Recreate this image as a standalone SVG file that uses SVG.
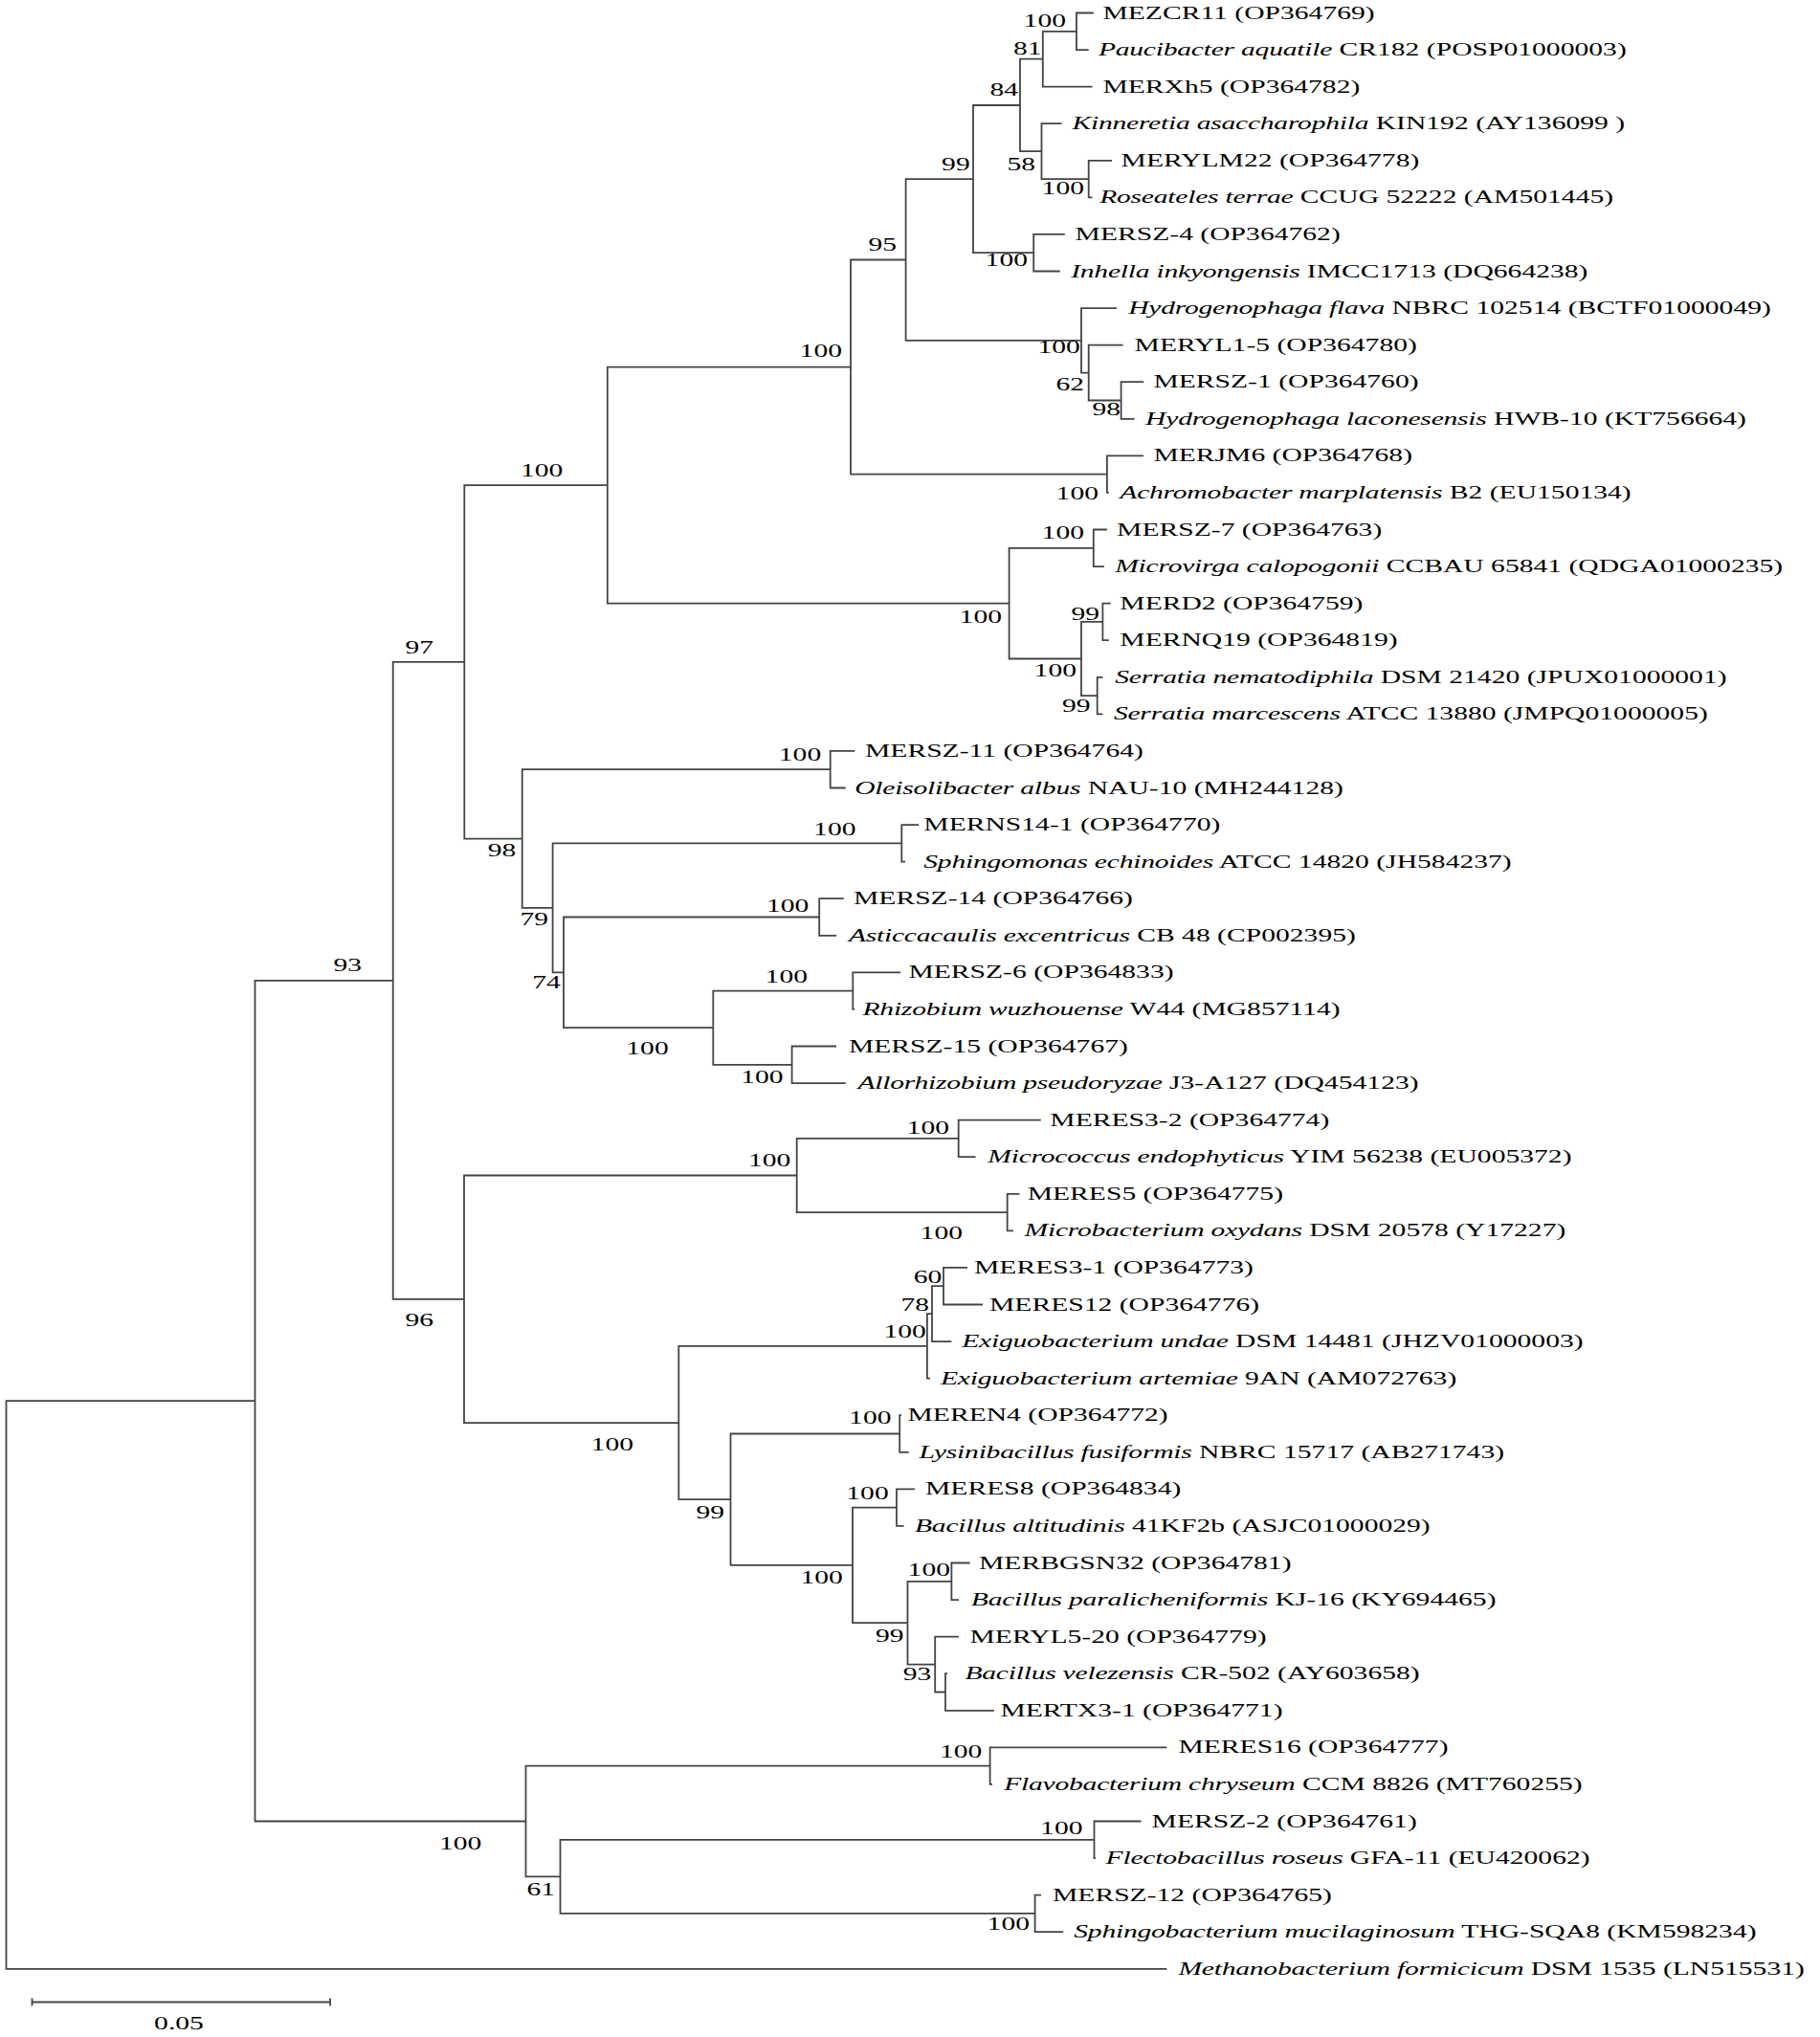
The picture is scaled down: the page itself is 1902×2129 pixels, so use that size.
<svg xmlns="http://www.w3.org/2000/svg" width="1902" height="2129" viewBox="0 0 1902 2129">
<style>
.t{font-family:"Liberation Serif","Times New Roman",serif;font-size:18px;fill:#000}
.i{font-style:italic;letter-spacing:-0.15px}
.b{font-family:"Liberation Serif","Times New Roman",serif;font-size:18px;fill:#000;text-anchor:end}
.br{fill:none;stroke:#444;stroke-width:1.8}
</style>
<rect width="1902" height="2129" fill="#fff"/>
<g id="branches" class="br">
<path d="M1142.8 13.5 H1125 V52.1 H1137.7"/>
<path d="M1125 32.8 H1089.8 V90.6 H1141.5"/>
<path d="M1162 167.8 H1137.7 V206.4 H1141.5"/>
<path d="M1109.6 129.2 H1088.5 V187.1 H1137.7"/>
<path d="M1089.8 61.7 H1066 V158.2 H1088.5"/>
<path d="M1112.8 244.9 H1080.2 V283.5 H1107.7"/>
<path d="M1066 110 H1017 V264.2 H1080.2"/>
<path d="M1195.2 399.2 H1171.6 V437.8 H1185.6"/>
<path d="M1173.5 360.6 H1137.7 V418.5 H1171.6"/>
<path d="M1167 322.1 H1130 V389.6 H1137.7"/>
<path d="M1017 187.1 H946.6 V355.8 H1130"/>
<path d="M1195 476.4 H1156.9 V514.9 H1158.8"/>
<path d="M946.6 271.5 H889 V495.7 H1156.9"/>
<path d="M1156.9 553.5 H1142.8 V592.1 H1154"/>
<path d="M1160.7 630.6 H1152.4 V669.2 H1158.8"/>
<path d="M1152.4 707.8 H1146.7 V746.4 H1152.4"/>
<path d="M1152.4 649.9 H1130 V727.1 H1146.7"/>
<path d="M1142.8 572.8 H1054.6 V688.5 H1130"/>
<path d="M889 383.6 H634.8 V630.6 H1054.6"/>
<path d="M893.2 784.9 H867.7 V823.5 H883.7"/>
<path d="M960.2 862.1 H942.3 V900.6 H946"/>
<path d="M881.8 939.2 H856.2 V977.8 H874.1"/>
<path d="M941 1016.4 H891.3 V1054.9 H893"/>
<path d="M874 1093.5 H827.6 V1132.1 H883.7"/>
<path d="M891.3 1035.7 H745.3 V1112.8 H827.6"/>
<path d="M856.2 958.5 H589 V1074.2 H745.3"/>
<path d="M942.3 881.4 H577.6 V1016.4 H589"/>
<path d="M867.7 804.2 H545.7 V948.9 H577.6"/>
<path d="M634.8 507.1 H485.3 V876.6 H545.7"/>
<path d="M1087.8 1170.6 H1001.7 V1209.2 H1019.5"/>
<path d="M1065.4 1247.8 H1052.7 V1286.4 H1059"/>
<path d="M1001.7 1189.9 H832.7 V1267.1 H1052.7"/>
<path d="M1011 1324.9 H986 V1363.5 H1027"/>
<path d="M986 1344.2 H974 V1402.1 H994.4"/>
<path d="M974 1373.2 H968.9 V1440.6 H972"/>
<path d="M942 1479.2 H940.2 V1517.8 H949.7"/>
<path d="M956 1556.4 H937 V1594.9 H944.6"/>
<path d="M1013.5 1633.5 H994.4 V1672.1 H1002"/>
<path d="M990 1749.2 H988 V1787.8 H1039"/>
<path d="M1002 1710.6 H977.2 V1768.5 H988"/>
<path d="M994.4 1652.8 H948.5 V1739.6 H977.2"/>
<path d="M937 1575.6 H891 V1696.2 H948.5"/>
<path d="M940.2 1498.5 H763.5 V1635.9 H891"/>
<path d="M968.9 1406.9 H709.3 V1567.2 H763.5"/>
<path d="M832.7 1228.5 H485 V1487.1 H709.3"/>
<path d="M485.3 691.8 H410.7 V1357.8 H485"/>
<path d="M1219.4 1826.4 H1034.6 V1864.9 H1037"/>
<path d="M1192.6 1903.5 H1143.5 V1942.1 H1145"/>
<path d="M1088 1980.6 H1081.6 V2019.2 H1111.2"/>
<path d="M1143.5 1922.8 H585.5 V1999.9 H1081.6"/>
<path d="M1034.6 1845.7 H549.5 V1961.4 H585.5"/>
<path d="M410.7 1024.8 H266.5 V1903.5 H549.5"/>
<path d="M266.5 1464.2 H6.5 V2057.8 H1219.4"/>
</g>
<g id="scale-bar">
<path class="br" d="M33.5 2092.5 H345 M33.5 2088.5 V2096.5 M345 2088.5 V2096.5"/>
<text class="t" text-anchor="middle" transform="translate(187 2121) scale(1.645 1)">0.05</text>
</g>
<g id="support-values">
<g id="n1"><text class="b" transform="translate(1114 28.3) scale(1.645 1)">100</text></g>
<g id="n2"><text class="b" transform="translate(1088.5 57.3) scale(1.645 1)">81</text></g>
<g id="n3"><text class="b" transform="translate(1133 202.7) scale(1.645 1)">100</text></g>
<g id="n4"><text class="b" transform="translate(1082 177.7) scale(1.645 1)">58</text></g>
<g id="n5"><text class="b" transform="translate(1064 100) scale(1.645 1)">84</text></g>
<g id="n6"><text class="b" transform="translate(1074 277.7) scale(1.645 1)">100</text></g>
<g id="n7"><text class="b" transform="translate(1013.7 177.7) scale(1.645 1)">99</text></g>
<g id="n8"><text class="b" transform="translate(1171 434) scale(1.645 1)">98</text></g>
<g id="n9"><text class="b" transform="translate(1133 408.3) scale(1.645 1)">62</text></g>
<g id="n10"><text class="b" transform="translate(1128.8 369) scale(1.645 1)">100</text></g>
<g id="n11"><text class="b" transform="translate(937 261.7) scale(1.645 1)">95</text></g>
<g id="n12"><text class="b" transform="translate(1148 522.3) scale(1.645 1)">100</text></g>
<g id="n13"><text class="b" transform="translate(880 373) scale(1.645 1)">100</text></g>
<g id="n14"><text class="b" transform="translate(1133 562.7) scale(1.645 1)">100</text></g>
<g id="n15"><text class="b" transform="translate(1149 648.3) scale(1.645 1)">99</text></g>
<g id="n16"><text class="b" transform="translate(1139.6 744) scale(1.645 1)">99</text></g>
<g id="n17"><text class="b" transform="translate(1125 706.7) scale(1.645 1)">100</text></g>
<g id="n18"><text class="b" transform="translate(1047 650.7) scale(1.645 1)">100</text></g>
<g id="n19"><text class="b" transform="translate(588.4 498.2) scale(1.645 1)">100</text></g>
<g id="n20"><text class="b" transform="translate(858.2 795) scale(1.645 1)">100</text></g>
<g id="n21"><text class="b" transform="translate(894.5 872.7) scale(1.645 1)">100</text></g>
<g id="n22"><text class="b" transform="translate(845.4 952.7) scale(1.645 1)">100</text></g>
<g id="n23"><text class="b" transform="translate(844 1026.7) scale(1.645 1)">100</text></g>
<g id="n24"><text class="b" transform="translate(818.6 1131.7) scale(1.645 1)">100</text></g>
<g id="n25"><text class="b" transform="translate(698.7 1101.7) scale(1.645 1)">100</text></g>
<g id="n26"><text class="b" transform="translate(585.8 1033.3) scale(1.645 1)">74</text></g>
<g id="n27"><text class="b" transform="translate(573 966.7) scale(1.645 1)">79</text></g>
<g id="n28"><text class="b" transform="translate(539.3 895) scale(1.645 1)">98</text></g>
<g id="n29"><text class="b" transform="translate(453 682.7) scale(1.645 1)">97</text></g>
<g id="n30"><text class="b" transform="translate(992 1185) scale(1.645 1)">100</text></g>
<g id="n31"><text class="b" transform="translate(1006 1295) scale(1.645 1)">100</text></g>
<g id="n32"><text class="b" transform="translate(826.3 1219.3) scale(1.645 1)">100</text></g>
<g id="n33"><text class="b" transform="translate(984.4 1341) scale(1.645 1)">60</text></g>
<g id="n34"><text class="b" transform="translate(971 1370) scale(1.645 1)">78</text></g>
<g id="n35"><text class="b" transform="translate(967.9 1398.3) scale(1.645 1)">100</text></g>
<g id="n36"><text class="b" transform="translate(931.5 1488.3) scale(1.645 1)">100</text></g>
<g id="n37"><text class="b" transform="translate(928.7 1566.7) scale(1.645 1)">100</text></g>
<g id="n38"><text class="b" transform="translate(993 1646.7) scale(1.645 1)">100</text></g>
<g id="n39"><text class="b" transform="translate(973.3 1756) scale(1.645 1)">93</text></g>
<g id="n40"><text class="b" transform="translate(944.6 1716) scale(1.645 1)">99</text></g>
<g id="n41"><text class="b" transform="translate(880.9 1655) scale(1.645 1)">100</text></g>
<g id="n42"><text class="b" transform="translate(757.1 1586.7) scale(1.645 1)">99</text></g>
<g id="n43"><text class="b" transform="translate(662 1515.7) scale(1.645 1)">100</text></g>
<g id="n44"><text class="b" transform="translate(453 1385.6) scale(1.645 1)">96</text></g>
<g id="n45"><text class="b" transform="translate(378 1015.2) scale(1.645 1)">93</text></g>
<g id="n46"><text class="b" transform="translate(1026.3 1836.7) scale(1.645 1)">100</text></g>
<g id="n47"><text class="b" transform="translate(1131.5 1916.7) scale(1.645 1)">100</text></g>
<g id="n48"><text class="b" transform="translate(1076 2017.3) scale(1.645 1)">100</text></g>
<g id="n49"><text class="b" transform="translate(580 1981) scale(1.645 1)">61</text></g>
<g id="n50"><text class="b" transform="translate(503.3 1932.5) scale(1.645 1)">100</text></g>
</g>
<g id="leaves">
<g id="leaf1"><text class="t" transform="translate(1152.4 19.5) scale(1.645 1)">MEZCR11 (OP364769)</text></g>
<g id="leaf2"><text class="t" transform="translate(1147.9 58.1) scale(1.645 1)"><tspan class="i">Paucibacter aquatile</tspan> CR182 (POSP01000003)</text></g>
<g id="leaf3"><text class="t" transform="translate(1152.4 96.6) scale(1.645 1)">MERXh5 (OP364782)</text></g>
<g id="leaf4"><text class="t" transform="translate(1120.4 135.2) scale(1.645 1)"><tspan class="i">Kinneretia asaccharophila</tspan> KIN192 (AY136099 )</text></g>
<g id="leaf5"><text class="t" transform="translate(1171.6 173.8) scale(1.645 1)">MERYLM22 (OP364778)</text></g>
<g id="leaf6"><text class="t" transform="translate(1149.2 212.4) scale(1.645 1)"><tspan class="i">Roseateles terrae</tspan> CCUG 52222 (AM501445)</text></g>
<g id="leaf7"><text class="t" transform="translate(1123.6 250.9) scale(1.645 1)">MERSZ-4 (OP364762)</text></g>
<g id="leaf8"><text class="t" transform="translate(1119.2 289.5) scale(1.645 1)"><tspan class="i">Inhella inkyongensis</tspan> IMCC1713 (DQ664238)</text></g>
<g id="leaf9"><text class="t" transform="translate(1179.2 328.1) scale(1.645 1)"><tspan class="i">Hydrogenophaga flava</tspan> NBRC 102514 (BCTF01000049)</text></g>
<g id="leaf10"><text class="t" transform="translate(1185.6 366.6) scale(1.645 1)">MERYL1-5 (OP364780)</text></g>
<g id="leaf11"><text class="t" transform="translate(1205.4 405.2) scale(1.645 1)">MERSZ-1 (OP364760)</text></g>
<g id="leaf12"><text class="t" transform="translate(1197.1 443.8) scale(1.645 1)"><tspan class="i">Hydrogenophaga laconesensis</tspan> HWB-10 (KT756664)</text></g>
<g id="leaf13"><text class="t" transform="translate(1205.4 482.4) scale(1.645 1)">MERJM6 (OP364768)</text></g>
<g id="leaf14"><text class="t" transform="translate(1170.3 520.9) scale(1.645 1)"><tspan class="i">Achromobacter marplatensis</tspan> B2 (EU150134)</text></g>
<g id="leaf15"><text class="t" transform="translate(1167.1 559.5) scale(1.645 1)">MERSZ-7 (OP364763)</text></g>
<g id="leaf16"><text class="t" transform="translate(1165.2 598.1) scale(1.645 1)"><tspan class="i">Microvirga calopogonii</tspan> CCBAU 65841 (QDGA01000235)</text></g>
<g id="leaf17"><text class="t" transform="translate(1170.3 636.6) scale(1.645 1)">MERD2 (OP364759)</text></g>
<g id="leaf18"><text class="t" transform="translate(1170.3 675.2) scale(1.645 1)">MERNQ19 (OP364819)</text></g>
<g id="leaf19"><text class="t" transform="translate(1165.2 713.8) scale(1.645 1)"><tspan class="i">Serratia nematodiphila</tspan> DSM 21420 (JPUX01000001)</text></g>
<g id="leaf20"><text class="t" transform="translate(1163.9 752.4) scale(1.645 1)"><tspan class="i">Serratia marcescens</tspan> ATCC 13880 (JMPQ01000005)</text></g>
<g id="leaf21"><text class="t" transform="translate(904 790.9) scale(1.645 1)">MERSZ-11 (OP364764)</text></g>
<g id="leaf22"><text class="t" transform="translate(893.2 829.5) scale(1.645 1)"><tspan class="i">Oleisolibacter albus</tspan> NAU-10 (MH244128)</text></g>
<g id="leaf23"><text class="t" transform="translate(965.3 868.1) scale(1.645 1)">MERNS14-1 (OP364770)</text></g>
<g id="leaf24"><text class="t" transform="translate(965.3 906.6) scale(1.645 1)"><tspan class="i">Sphingomonas echinoides</tspan> ATCC 14820 (JH584237)</text></g>
<g id="leaf25"><text class="t" transform="translate(892 945.2) scale(1.645 1)">MERSZ-14 (OP364766)</text></g>
<g id="leaf26"><text class="t" transform="translate(886.9 983.8) scale(1.645 1)"><tspan class="i">Asticcacaulis excentricus</tspan> CB 48 (CP002395)</text></g>
<g id="leaf27"><text class="t" transform="translate(949.4 1022.4) scale(1.645 1)">MERSZ-6 (OP364833)</text></g>
<g id="leaf28"><text class="t" transform="translate(901.5 1060.9) scale(1.645 1)"><tspan class="i">Rhizobium wuzhouense</tspan> W44 (MG857114)</text></g>
<g id="leaf29"><text class="t" transform="translate(886.9 1099.5) scale(1.645 1)">MERSZ-15 (OP364767)</text></g>
<g id="leaf30"><text class="t" transform="translate(896.4 1138.1) scale(1.645 1)"><tspan class="i">Allorhizobium pseudoryzae</tspan> J3-A127 (DQ454123)</text></g>
<g id="leaf31"><text class="t" transform="translate(1097.3 1176.6) scale(1.645 1)">MERES3-2 (OP364774)</text></g>
<g id="leaf32"><text class="t" transform="translate(1032.3 1215.2) scale(1.645 1)"><tspan class="i">Micrococcus endophyticus</tspan> YIM 56238 (EU005372)</text></g>
<g id="leaf33"><text class="t" transform="translate(1073.7 1253.8) scale(1.645 1)">MERES5 (OP364775)</text></g>
<g id="leaf34"><text class="t" transform="translate(1070.5 1292.4) scale(1.645 1)"><tspan class="i">Microbacterium oxydans</tspan> DSM 20578 (Y17227)</text></g>
<g id="leaf35"><text class="t" transform="translate(1018 1330.9) scale(1.645 1)">MERES3-1 (OP364773)</text></g>
<g id="leaf36"><text class="t" transform="translate(1034 1369.5) scale(1.645 1)">MERES12 (OP364776)</text></g>
<g id="leaf37"><text class="t" transform="translate(1005.2 1408.1) scale(1.645 1)"><tspan class="i">Exiguobacterium undae</tspan> DSM 14481 (JHZV01000003)</text></g>
<g id="leaf38"><text class="t" transform="translate(983 1446.6) scale(1.645 1)"><tspan class="i">Exiguobacterium artemiae</tspan> 9AN (AM072763)</text></g>
<g id="leaf39"><text class="t" transform="translate(948.5 1485.2) scale(1.645 1)">MEREN4 (OP364772)</text></g>
<g id="leaf40"><text class="t" transform="translate(960.6 1523.8) scale(1.645 1)"><tspan class="i">Lysinibacillus fusiformis</tspan> NBRC 15717 (AB271743)</text></g>
<g id="leaf41"><text class="t" transform="translate(967 1562.4) scale(1.645 1)">MERES8 (OP364834)</text></g>
<g id="leaf42"><text class="t" transform="translate(956 1600.9) scale(1.645 1)"><tspan class="i">Bacillus altitudinis</tspan> 41KF2b (ASJC01000029)</text></g>
<g id="leaf43"><text class="t" transform="translate(1023 1639.5) scale(1.645 1)">MERBGSN32 (OP364781)</text></g>
<g id="leaf44"><text class="t" transform="translate(1014.8 1678.1) scale(1.645 1)"><tspan class="i">Bacillus paralicheniformis</tspan> KJ-16 (KY694465)</text></g>
<g id="leaf45"><text class="t" transform="translate(1013.5 1716.6) scale(1.645 1)">MERYL5-20 (OP364779)</text></g>
<g id="leaf46"><text class="t" transform="translate(1008.4 1755.2) scale(1.645 1)"><tspan class="i">Bacillus velezensis</tspan> CR-502 (AY603658)</text></g>
<g id="leaf47"><text class="t" transform="translate(1045.4 1793.8) scale(1.645 1)">MERTX3-1 (OP364771)</text></g>
<g id="leaf48"><text class="t" transform="translate(1231.4 1832.4) scale(1.645 1)">MERES16 (OP364777)</text></g>
<g id="leaf49"><text class="t" transform="translate(1049.2 1870.9) scale(1.645 1)"><tspan class="i">Flavobacterium chryseum</tspan> CCM 8826 (MT760255)</text></g>
<g id="leaf50"><text class="t" transform="translate(1203.6 1909.5) scale(1.645 1)">MERSZ-2 (OP364761)</text></g>
<g id="leaf51"><text class="t" transform="translate(1155.6 1948.1) scale(1.645 1)"><tspan class="i">Flectobacillus roseus</tspan> GFA-11 (EU420062)</text></g>
<g id="leaf52"><text class="t" transform="translate(1100 1986.6) scale(1.645 1)">MERSZ-12 (OP364765)</text></g>
<g id="leaf53"><text class="t" transform="translate(1122.3 2025.2) scale(1.645 1)"><tspan class="i">Sphingobacterium mucilaginosum</tspan> THG-SQA8 (KM598234)</text></g>
<g id="leaf54"><text class="t" transform="translate(1231.4 2063.8) scale(1.645 1)"><tspan class="i">Methanobacterium formicicum</tspan> DSM 1535 (LN515531)</text></g>
</g>
</svg>
